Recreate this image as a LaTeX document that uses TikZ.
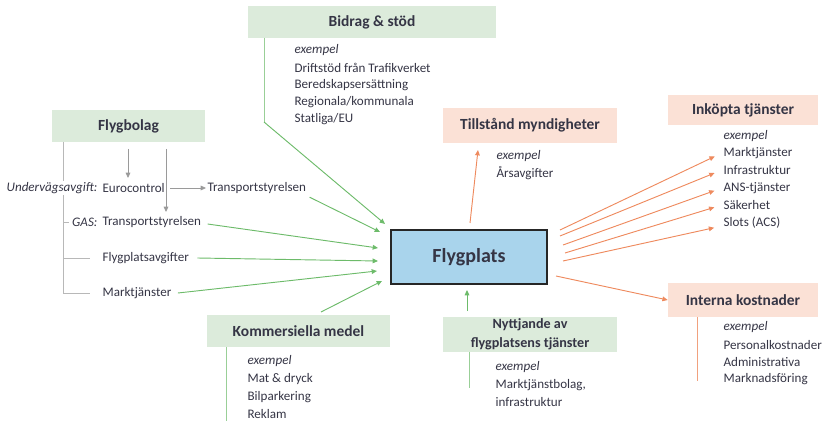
\documentclass[tikz,border=0pt]{standalone}
\usepackage{fontspec}
\setmainfont{Carlito}
\usetikzlibrary{arrows.meta}
\definecolor{gbox}{HTML}{DCEBDB}
\definecolor{obox}{HTML}{FBE1D6}
\definecolor{gline}{HTML}{6DBB6A}
\definecolor{oline}{HTML}{EE8A5E}
\definecolor{gray1}{HTML}{9A9A9A}
\definecolor{txt}{HTML}{353545}
\definecolor{blu}{HTML}{A9D4EC}
\tikzset{
  gtitle/.style={fill=gbox,font=\bfseries\fontsize{11.6}{13}\selectfont,text=txt,minimum height=24pt,inner sep=0pt},
  otitle/.style={fill=obox,font=\bfseries\fontsize{11.6}{13}\selectfont,text=txt,minimum height=24pt,inner sep=0pt},
  item/.style={anchor=west,font=\fontsize{9.8}{11}\selectfont,text=txt,inner sep=1pt},
  ex/.style={item,font=\itshape\fontsize{9.8}{11}\selectfont},
  garr/.style={draw=gline,line width=0.7pt,-{Triangle[length=4pt,width=3.5pt]}},
  gln/.style={draw=gline!70,line width=0.7pt},
  oarr/.style={draw=oline,line width=0.7pt,-{Triangle[length=4pt,width=3.5pt]}},
  oln/.style={draw=oline!80,line width=0.7pt},
  grarr/.style={draw=gray1,line width=0.6pt,-{Triangle[length=4pt,width=3.5pt]}},
  grln/.style={draw=gray1!70,line width=0.6pt},
}
\begin{document}
\begin{tikzpicture}[x=0.75pt,y=-0.75pt]
\useasboundingbox (0,0) rectangle (827,427);
% central
\node[draw=black!85,line width=1.6pt,fill=blu,minimum width=117pt,minimum height=40pt,font=\bfseries\fontsize{15}{18}\selectfont,text=txt] (fp) at (469,257) {Flygplats};

% Bidrag & stöd
\node[gtitle,minimum width=186pt] (bid) at (372,22) {Bidrag \& stöd};
\node[ex] (bid0) at (293,50) {exempel};
\node[item] (bid1) at (293,68) {Driftstöd från Trafikverket};
\node[item] (bid2) at (293,85) {Beredskapsersättning};
\node[item] (bid3) at (293,102) {Regionala/kommunala};
\node[item] (bid4) at (293,119) {Statliga/EU};
\coordinate (bidA) at (264,38);
\coordinate (bidB) at (264,122);
\draw[gln] (bidA) -- (bidB);
\draw[garr] (bidB) -- (385,224);

% Flygbolag
\node[gtitle,minimum width=115pt] (fb) at (128.5,126) {Flygbolag};
\node[anchor=east,font=\itshape\fontsize{9.8}{11}\selectfont,text=txt,inner sep=1pt,fill=white] (uv) at (99,188) {Undervägsavgift:};
\node[item] (euro) at (101,188) {Eurocontrol};
\node[item] (ts1) at (206,188) {Transportstyrelsen};
\node[anchor=east,font=\itshape\fontsize{9.8}{11}\selectfont,text=txt,inner sep=1pt] (gas) at (99,222) {GAS:};
\node[item] (ts2) at (101,222) {Transportstyrelsen};
\node[item] (fpa) at (101,258) {Flygplatsavgifter};
\node[item] (mt) at (101,293) {Marktjänster};
\coordinate (fbL) at (63,142);
\coordinate (fbLb) at (63,293);
\draw[grln] (fbL) -- (uv.north -| fbL);
\draw[grln] (uv.south -| fbL) -- (fbLb) -- (90,293);
\draw[grln] (63,222) -- (69,222);
\draw[grln] (63,258) -- (90,258);
\draw[grarr] (128,149) -- (128,178);
\draw[grarr] (166,149) -- (166,212);
\draw[grarr] (170,188) -- (ts1.west);
% green arrows
\draw[garr] (ts1.south east) ++(2,2) -- (380,232);
\draw[garr] (ts2.east) ++(5,2) -- (378,248);
\draw[garr] (fpa.east) ++(7,0) -- (378,261);
\draw[garr] (mt.east) ++(5,0) -- (377,271);

% Kommersiella medel
\node[gtitle,minimum width=137pt] (km) at (298.5,331) {Kommersiella medel};
\draw[garr] (321,312) -- (382,281);
\coordinate (kmA) at (226,347);
\coordinate (kmB) at (226,421);
\draw[gln] (kmA) -- (kmB);
\node[ex] (km0) at (246,361) {exempel};
\node[item] (km1) at (246,379) {Mat \& dryck};
\node[item] (km2) at (246,397) {Bilparkering};
\node[item] (km3) at (246,414) {Reklam};

% Nyttjande
\node[gtitle,minimum width=131pt,minimum height=26pt,align=center,font=\bfseries\fontsize{10.6}{14.5}\selectfont] (ny) at (530,334.5) {Nyttjande av\\flygplatsens tjänster};
\draw[garr] (467,311) -- (467,290);
\coordinate (nyA) at (469,352);
\coordinate (nyB) at (469,388);
\draw[gln] (nyA) -- (nyB);
\node[ex] (ny0) at (494,367) {exempel};
\node[item] (ny1) at (494,385) {Marktjänstbolag,};
\node[item] (ny2) at (494,402) {infrastruktur};

% Tillstånd myndigheter
\node[otitle,minimum width=130.5pt,minimum height=26pt] (tm) at (530,125.5) {Tillstånd myndigheter};
\draw[oarr] (470,223) -- (478,150);
\node[ex] (tm0) at (495,156) {exempel};
\node[item] (tm1) at (495,173) {Årsavgifter};

% Inköpta tjänster
\node[otitle,minimum width=112.5pt,minimum height=22.5pt] (ik) at (743,110) {Inköpta tjänster};
\node[ex] (ik0) at (722,136) {exempel};
\node[item] (ik1) at (722,153) {Marktjänster};
\node[item] (ik2) at (722,170) {Infrastruktur};
\node[item] (ik3) at (722,188) {ANS-tjänster};
\node[item] (ik4) at (722,205) {Säkerhet};
\node[item] (ik5) at (722,223) {Slots (ACS)};
\draw[oarr,shorten >=6pt] (560,230) -- (ik1.west);
\draw[oarr,shorten >=6pt] (560,236) -- (ik2.west);
\draw[oarr,shorten >=6pt] (563,245) -- (ik3.west);
\draw[oarr,shorten >=6pt] (565,253) -- (ik4.west);
\draw[oarr,shorten >=6pt] (563,261) -- (ik5.west|-0,226);

% Interna kostnader
\node[otitle,minimum width=112.5pt,minimum height=25.5pt] (in) at (743,300) {Interna kostnader};
\draw[oarr] (556,276) -- (in.west);
\coordinate (inA) at (697,317);
\coordinate (inB) at (697,381);
\draw[oln] (inA) -- (inB);
\node[ex] (in0) at (722,327) {exempel};
\node[item] (in1) at (722,345) {Personalkostnader};
\node[item] (in2) at (722,362) {Administrativa};
\node[item] (in3) at (722,379) {Marknadsföring};
\end{tikzpicture}
\end{document}
